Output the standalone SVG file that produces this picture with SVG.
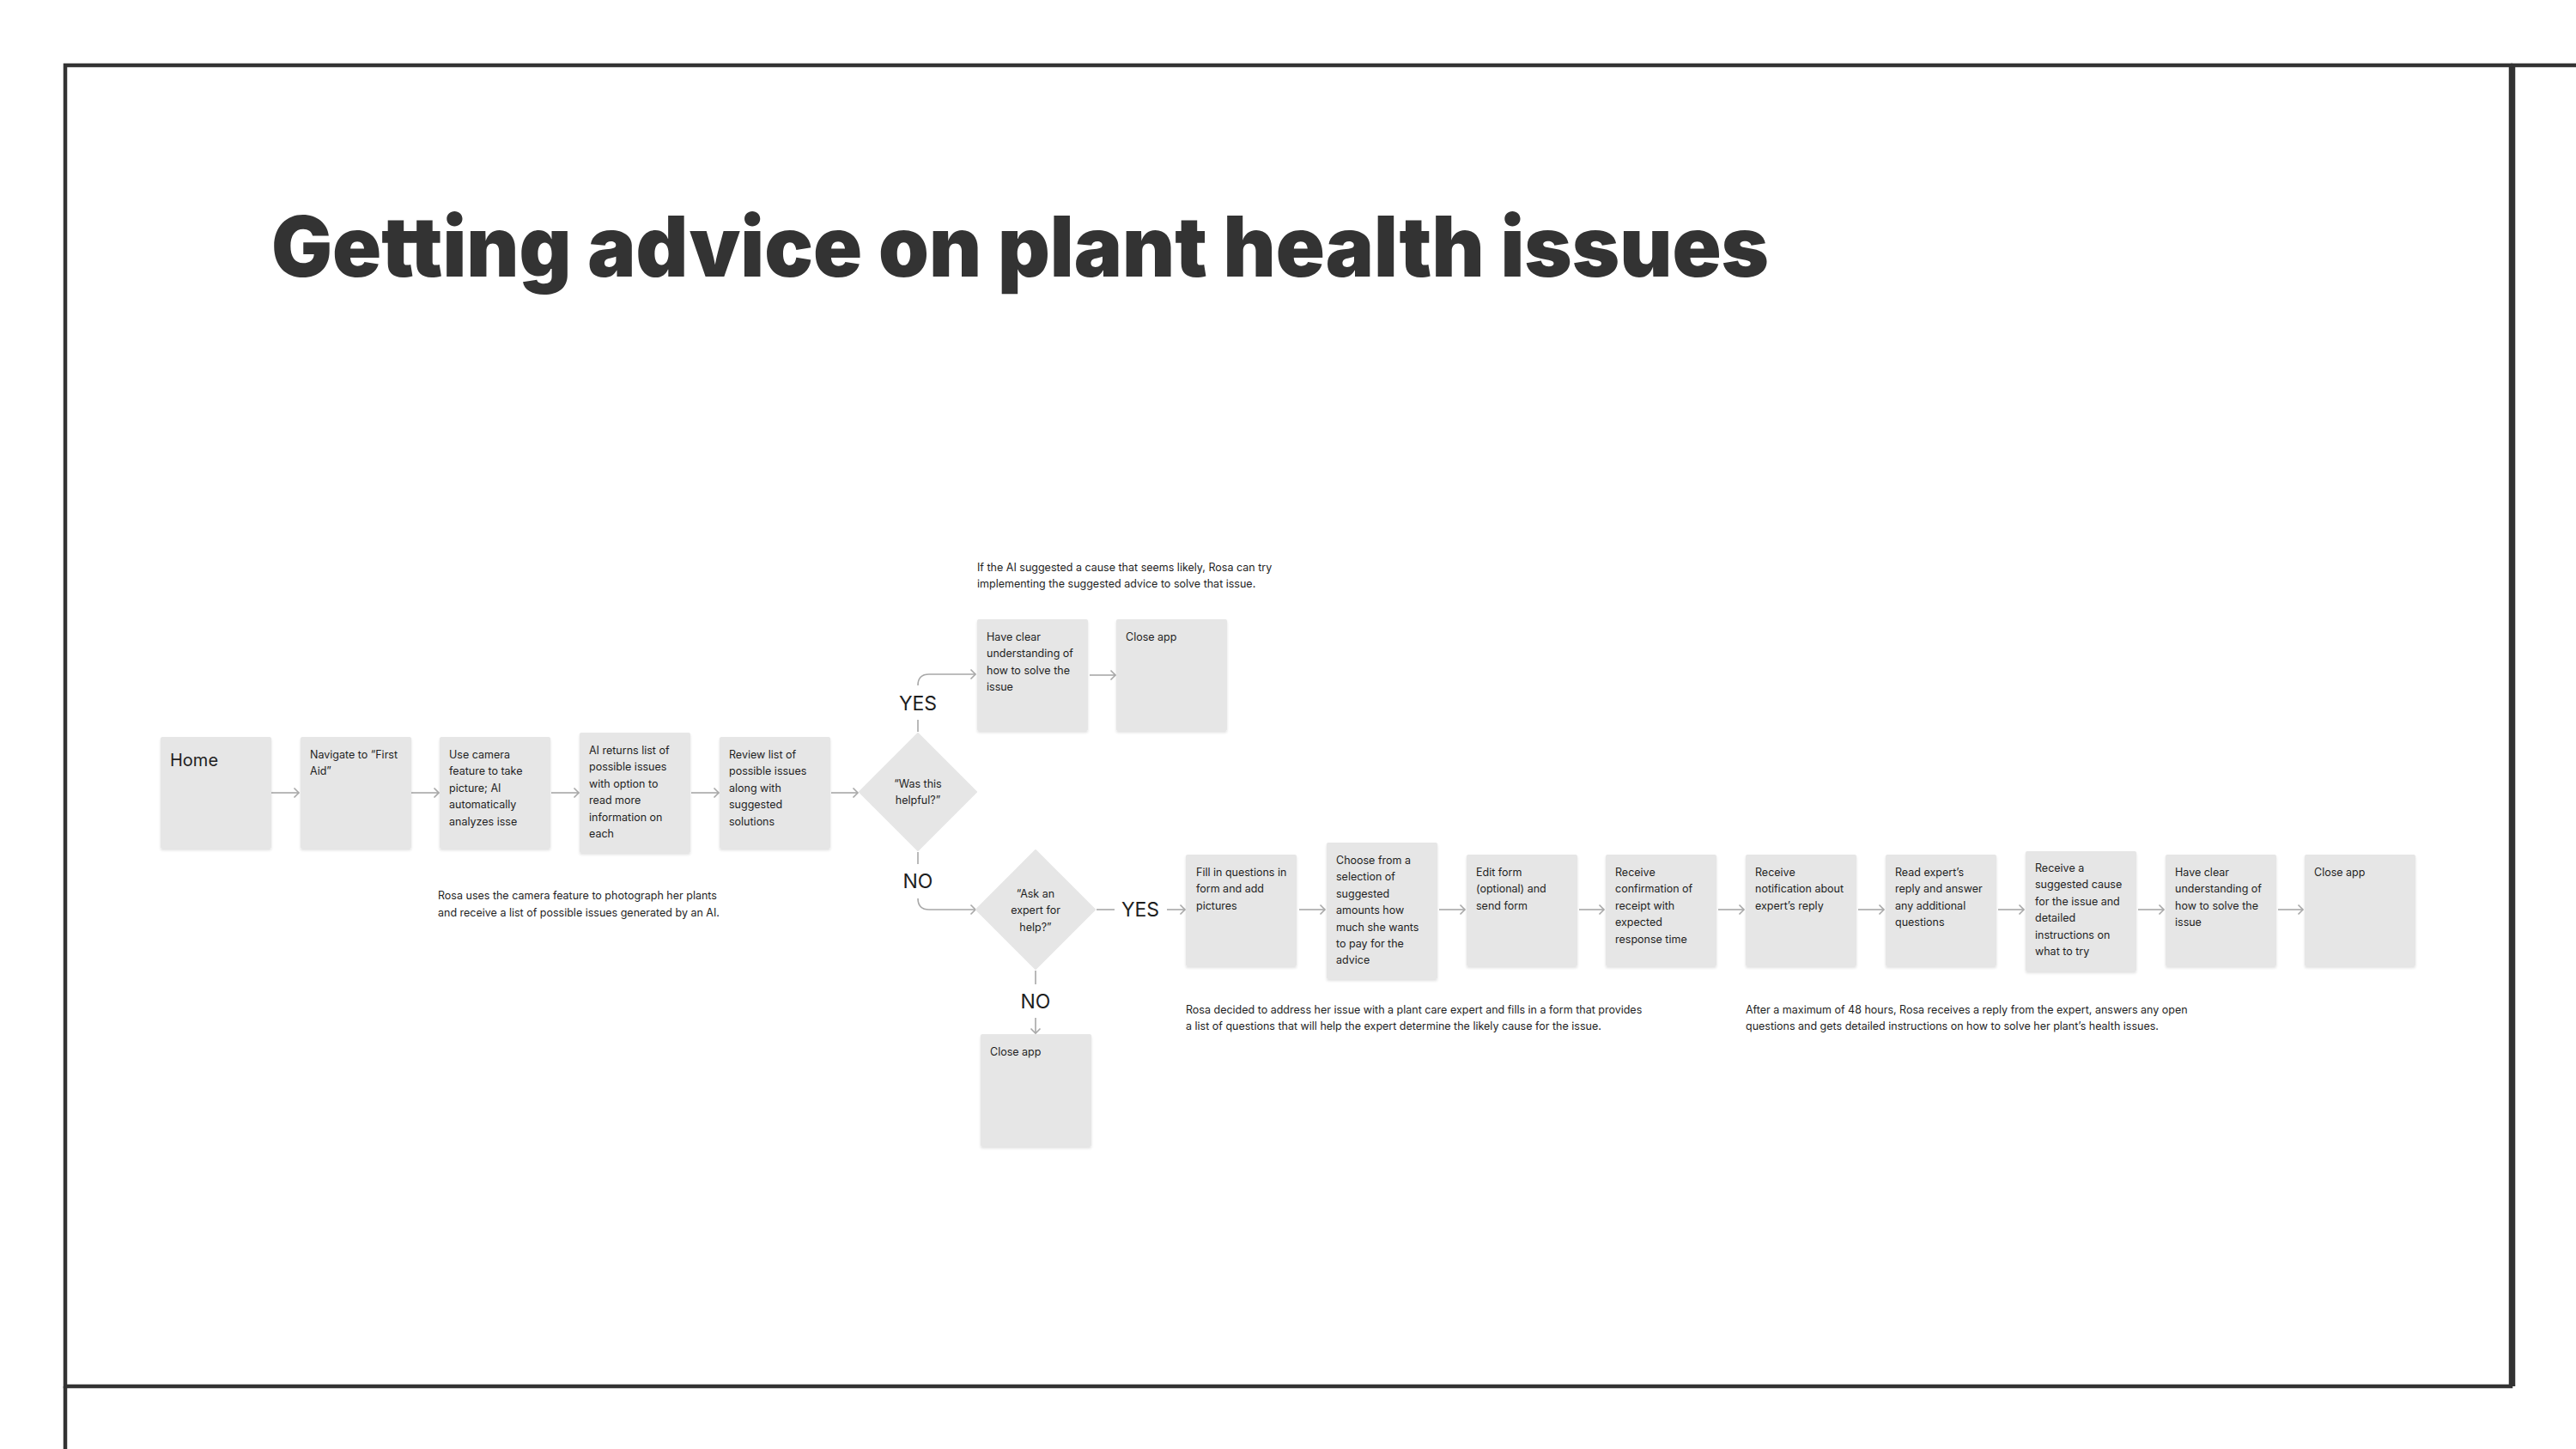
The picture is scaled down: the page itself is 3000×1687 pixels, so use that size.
<svg xmlns="http://www.w3.org/2000/svg" width="3000" height="1687" viewBox="0 0 3000 1687">
<style>
.frame{fill:none;stroke:#333333;stroke-width:4.5}
.box{fill:#E6E6E6;filter:url(#sh)}
.t{font-family:Inter,"Noto Sans",sans-serif;font-size:12.5px;fill:#1E1E1E}
.lbl{font-family:Inter,"Noto Sans",sans-serif;font-size:23px;fill:#1E1E1E;text-anchor:middle}
.c{fill:none;stroke:#A8A8A8;stroke-width:1.6}
.ca{fill:none;stroke:#A8A8A8;stroke-width:1.6;marker-end:url(#ah)}
.title{font-family:Inter,"Liberation Sans",sans-serif;font-weight:900;font-size:97px;fill:#333333;font-variant-ligatures:none}
</style>
<defs>
<filter id="sh" x="-10%" y="-10%" width="120%" height="130%">
<feDropShadow dx="0" dy="2" stdDeviation="1.5" flood-color="#000" flood-opacity="0.12"/>
</filter>
<marker id="ah" markerUnits="userSpaceOnUse" markerWidth="12" markerHeight="14" refX="7" refY="7" orient="auto">
<path d="M1.5,1.5 L7,7 L1.5,12.5" fill="none" stroke="#A8A8A8" stroke-width="1.6"/>
</marker>
</defs>
<rect width="3000" height="1687" fill="#FFFFFF"/>
<g id="frames">
<rect class="frame" x="76" y="76" width="2848" height="1538"/>
<line class="frame" x1="2927" y1="76" x2="2927" y2="1614"/>
<line class="frame" x1="2924" y1="76" x2="3000" y2="76"/>
<line class="frame" x1="76" y1="1614" x2="76" y2="1687"/>
</g>
<text class="title" x="316" y="322" textLength="1744" lengthAdjust="spacingAndGlyphs">Getting advice on plant health issues</text>

<g id="connectors">
<line class="ca" x1="316" y1="923" x2="348" y2="923"/>
<line class="ca" x1="479" y1="923" x2="511" y2="923"/>
<line class="ca" x1="642" y1="923" x2="674" y2="923"/>
<line class="ca" x1="805" y1="923" x2="837" y2="923"/>
<line class="ca" x1="968" y1="923" x2="999" y2="923"/>
<line class="c" x1="1069" y1="852" x2="1069" y2="838"/>
<path class="ca" d="M1069,798 Q1069,785 1082,785 L1136,785"/>
<line class="ca" x1="1269" y1="786" x2="1299" y2="786"/>
<line class="c" x1="1069" y1="992" x2="1069" y2="1006"/>
<path class="ca" d="M1069,1046 Q1069,1059 1082,1059 L1136,1059"/>
<line class="c" x1="1277" y1="1059" x2="1298" y2="1059"/>
<line class="ca" x1="1359" y1="1059" x2="1380" y2="1059"/>
<line class="c" x1="1206" y1="1130" x2="1206" y2="1146"/>
<line class="ca" x1="1206" y1="1185" x2="1206" y2="1203"/>
<line class="ca" x1="1513" y1="1059" x2="1543" y2="1059"/>
<line class="ca" x1="1676" y1="1059" x2="1706" y2="1059"/>
<line class="ca" x1="1839" y1="1059" x2="1868" y2="1059"/>
<line class="ca" x1="2001" y1="1059" x2="2031" y2="1059"/>
<line class="ca" x1="2164" y1="1059" x2="2194" y2="1059"/>
<line class="ca" x1="2327" y1="1059" x2="2357" y2="1059"/>
<line class="ca" x1="2490" y1="1059" x2="2520" y2="1059"/>
<line class="ca" x1="2653" y1="1059" x2="2682" y2="1059"/>
<text class="lbl" x="1069" y="827">YES</text>
<text class="lbl" x="1069" y="1034">NO</text>
<text class="lbl" x="1328" y="1067">YES</text>
<text class="lbl" x="1206" y="1174">NO</text>
</g>

<g id="home"><rect class="box" x="187" y="858" width="129" height="130" rx="2"/>
<text x="198" y="892" font-family="Inter,'Noto Sans',sans-serif" font-size="20" fill="#1E1E1E">Home</text></g>
<g id="navigate"><rect class="box" x="350" y="858" width="129" height="130" rx="2"/>
<text class="t" x="361" y="883">Navigate to “First<tspan x="361" dy="19.4">Aid”</tspan></text></g>
<g id="camera"><rect class="box" x="512" y="858" width="129" height="130" rx="2"/>
<text class="t" x="523" y="883">Use camera<tspan x="523" dy="19.4">feature to take</tspan><tspan x="523" dy="19.4">picture; AI</tspan><tspan x="523" dy="19.4">automatically</tspan><tspan x="523" dy="19.4">analyzes isse</tspan></text></g>
<g id="ai-returns"><rect class="box" x="675" y="853" width="129" height="140" rx="2"/>
<text class="t" x="686" y="878">AI returns list of<tspan x="686" dy="19.4">possible issues</tspan><tspan x="686" dy="19.4">with option to</tspan><tspan x="686" dy="19.4">read more</tspan><tspan x="686" dy="19.4">information on</tspan><tspan x="686" dy="19.4">each</tspan></text></g>
<g id="review"><rect class="box" x="838" y="858" width="129" height="130" rx="2"/>
<text class="t" x="849" y="883">Review list of<tspan x="849" dy="19.4">possible issues</tspan><tspan x="849" dy="19.4">along with</tspan><tspan x="849" dy="19.4">suggested</tspan><tspan x="849" dy="19.4">solutions</tspan></text></g>
<text class="t" x="510" y="1047">Rosa uses the camera feature to photograph her plants<tspan x="510" dy="19.6">and receive a list of possible issues generated by an AI.</tspan></text>

<g id="helpful"><polygon points="1069,854 1137,922 1069,990 1001,922" fill="#E6E6E6" stroke="#E6E6E6" stroke-width="2" stroke-linejoin="round"/>
<text class="t" text-anchor="middle" x="1069" y="917">“Was this<tspan x="1069" dy="19.4">helpful?”</tspan></text></g>

<text class="t" x="1138" y="665">If the AI suggested a cause that seems likely, Rosa can try<tspan x="1138" dy="19.4">implementing the suggested advice to solve that issue.</tspan></text>
<g id="clear-top"><rect class="box" x="1138" y="721" width="129" height="130" rx="2"/>
<text class="t" x="1149" y="746">Have clear<tspan x="1149" dy="19.4">understanding of</tspan><tspan x="1149" dy="19.4">how to solve the</tspan><tspan x="1149" dy="19.4">issue</tspan></text></g>
<g id="close-top"><rect class="box" x="1300" y="721" width="129" height="130" rx="2"/>
<text class="t" x="1311" y="746">Close app</text></g>

<g id="expert"><polygon points="1206,990 1275,1059 1206,1128 1137,1059" fill="#E6E6E6" stroke="#E6E6E6" stroke-width="2" stroke-linejoin="round"/>
<text class="t" text-anchor="middle" x="1206" y="1045">“Ask an<tspan x="1206" dy="19.4">expert for</tspan><tspan x="1206" dy="19.4">help?”</tspan></text></g>
<g id="close-no"><rect class="box" x="1142" y="1204" width="129" height="131" rx="2"/>
<text class="t" x="1153" y="1229">Close app</text></g>

<g id="fill"><rect class="box" x="1381" y="995" width="129" height="130" rx="2"/>
<text class="t" x="1393" y="1020">Fill in questions in<tspan x="1393" dy="19.4">form and add</tspan><tspan x="1393" dy="19.4">pictures</tspan></text></g>
<g id="choose"><rect class="box" x="1545" y="981" width="129" height="159" rx="2"/>
<text class="t" x="1556" y="1006">Choose from a<tspan x="1556" dy="19.4">selection of</tspan><tspan x="1556" dy="19.4">suggested</tspan><tspan x="1556" dy="19.4">amounts how</tspan><tspan x="1556" dy="19.4">much she wants</tspan><tspan x="1556" dy="19.4">to pay for the</tspan><tspan x="1556" dy="19.4">advice</tspan></text></g>
<g id="edit"><rect class="box" x="1708" y="995" width="129" height="130" rx="2"/>
<text class="t" x="1719" y="1020">Edit form<tspan x="1719" dy="19.4">(optional) and</tspan><tspan x="1719" dy="19.4">send form</tspan></text></g>
<g id="confirm"><rect class="box" x="1870" y="995" width="129" height="130" rx="2"/>
<text class="t" x="1881" y="1020">Receive<tspan x="1881" dy="19.4">confirmation of</tspan><tspan x="1881" dy="19.4">receipt with</tspan><tspan x="1881" dy="19.4">expected</tspan><tspan x="1881" dy="19.4">response time</tspan></text></g>
<g id="notify"><rect class="box" x="2033" y="995" width="129" height="130" rx="2"/>
<text class="t" x="2044" y="1020">Receive<tspan x="2044" dy="19.4">notification about</tspan><tspan x="2044" dy="19.4">expert’s reply</tspan></text></g>
<g id="read"><rect class="box" x="2196" y="995" width="129" height="130" rx="2"/>
<text class="t" x="2207" y="1020">Read expert’s<tspan x="2207" dy="19.4">reply and answer</tspan><tspan x="2207" dy="19.4">any additional</tspan><tspan x="2207" dy="19.4">questions</tspan></text></g>
<g id="suggested"><rect class="box" x="2359" y="991" width="129" height="140" rx="2"/>
<text class="t" x="2370" y="1015">Receive a<tspan x="2370" dy="19.4">suggested cause</tspan><tspan x="2370" dy="19.4">for the issue and</tspan><tspan x="2370" dy="19.4">detailed</tspan><tspan x="2370" dy="19.4">instructions on</tspan><tspan x="2370" dy="19.4">what to try</tspan></text></g>
<g id="clear-bottom"><rect class="box" x="2522" y="995" width="129" height="130" rx="2"/>
<text class="t" x="2533" y="1020">Have clear<tspan x="2533" dy="19.4">understanding of</tspan><tspan x="2533" dy="19.4">how to solve the</tspan><tspan x="2533" dy="19.4">issue</tspan></text></g>
<g id="close-bottom"><rect class="box" x="2684" y="995" width="129" height="130" rx="2"/>
<text class="t" x="2695" y="1020">Close app</text></g>

<text class="t" x="1381" y="1180">Rosa decided to address her issue with a plant care expert and fills in a form that provides<tspan x="1381" dy="19.4">a list of questions that will help the expert determine the likely cause for the issue.</tspan></text>
<text class="t" x="2033" y="1180">After a maximum of 48 hours, Rosa receives a reply from the expert, answers any open<tspan x="2033" dy="19.4">questions and gets detailed instructions on how to solve her plant’s health issues.</tspan></text>
</svg>
